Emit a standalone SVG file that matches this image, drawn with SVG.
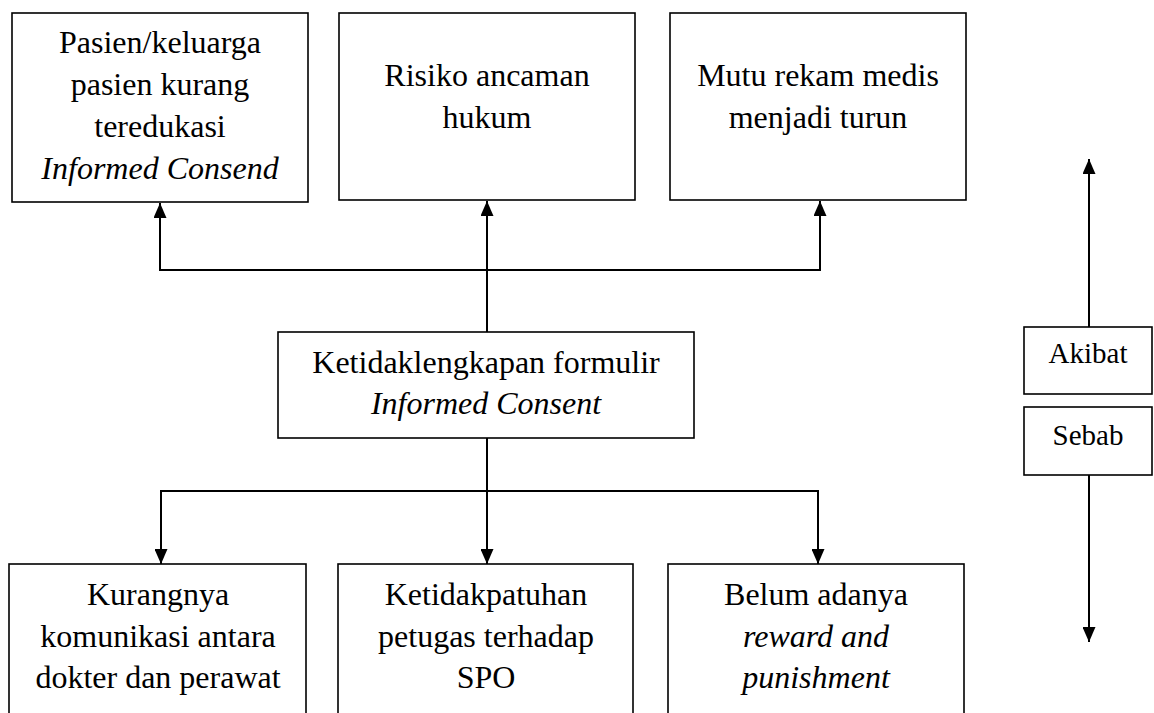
<svg xmlns="http://www.w3.org/2000/svg" width="1154" height="713" viewBox="0 0 1154 713">
<style>
.box{fill:#fff;stroke:#000;stroke-width:1.6}
text{font-family:'Liberation Serif','Times New Roman',serif;font-size:32px;fill:#000;text-anchor:middle}
text.s{font-size:29px}
.i{font-style:italic}
.c{fill:none;stroke:#000;stroke-width:2}
</style>
<defs>
<marker id="ah" viewBox="0 0 15 13" refX="15" refY="6.5" markerWidth="15" markerHeight="13" markerUnits="userSpaceOnUse" orient="auto">
<path d="M0,0 L15,6.5 L0,13 Z" fill="#000"/>
</marker>
</defs>
<rect width="1154" height="713" fill="#fff"/>
<g id="connectors">
<path class="c" d="M487,332 V270 H160 V203" marker-end="url(#ah)"/>
<path class="c" d="M487,270 V201" marker-end="url(#ah)"/>
<path class="c" d="M487,270 H820 V201" marker-end="url(#ah)"/>
<path class="c" d="M487,438 V491 H161 V564" marker-end="url(#ah)"/>
<path class="c" d="M487,491 V564" marker-end="url(#ah)"/>
<path class="c" d="M487,491 H818 V564" marker-end="url(#ah)"/>
<path class="c" d="M1089,327 V159" marker-end="url(#ah)"/>
<path class="c" d="M1089,475 V642" marker-end="url(#ah)"/>
</g>
<g id="n1">
<rect class="box" x="12" y="13" width="296" height="189"/>
<text x="160" y="53">Pasien/keluarga</text>
<text x="160" y="95">pasien kurang</text>
<text x="160" y="137">teredukasi</text>
<text class="i" x="160" y="179">Informed Consend</text>
</g>
<g id="n2">
<rect class="box" x="339" y="13" width="296" height="187"/>
<text x="487" y="86">Risiko ancaman</text>
<text x="487" y="128">hukum</text>
</g>
<g id="n3">
<rect class="box" x="670" y="13" width="296" height="187"/>
<text x="818" y="86">Mutu rekam medis</text>
<text x="818" y="128">menjadi turun</text>
</g>
<g id="n4">
<rect class="box" x="278" y="332" width="416" height="106"/>
<text x="486" y="373">Ketidaklengkapan formulir</text>
<text class="i" x="486" y="414">Informed Consent</text>
</g>
<g id="n5">
<rect class="box" x="9" y="564" width="297" height="160"/>
<text x="158" y="605">Kurangnya</text>
<text x="158" y="647">komunikasi antara</text>
<text x="158" y="688">dokter dan perawat</text>
</g>
<g id="n6">
<rect class="box" x="338" y="564" width="295" height="160"/>
<text x="486" y="605">Ketidakpatuhan</text>
<text x="486" y="647">petugas terhadap</text>
<text x="486" y="688">SPO</text>
</g>
<g id="n7">
<rect class="box" x="668" y="564" width="296" height="160"/>
<text x="816" y="605">Belum adanya</text>
<text class="i" x="816" y="647">reward and</text>
<text class="i" x="816" y="688">punishment</text>
</g>
<g id="n8">
<rect class="box" x="1024" y="327" width="128" height="67"/>
<text class="s" x="1088" y="363">Akibat</text>
</g>
<g id="n9">
<rect class="box" x="1024" y="407" width="128" height="68"/>
<text class="s" x="1088" y="445">Sebab</text>
</g>
</svg>
